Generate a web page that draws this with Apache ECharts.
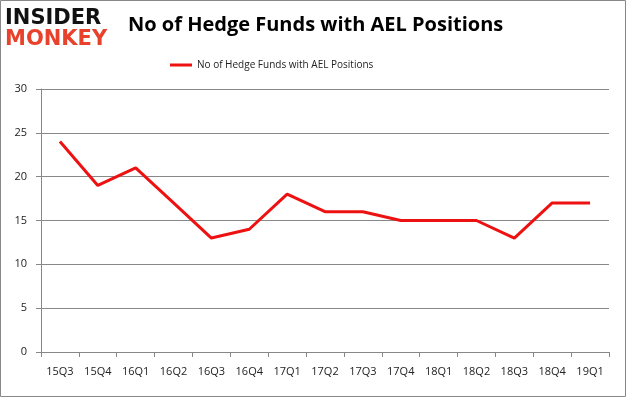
<!DOCTYPE html>
<html>
<head>
<meta charset="utf-8">
<script src="https://cdn.jsdelivr.net/npm/echarts@6/dist/echarts.min.js"></script>
<style>
  html, body { margin: 0; padding: 0; background: #fff; }
  #chart { width: 626px; height: 397px; }
</style>
</head>
<body>
<div id="chart"></div>
<script>
const categories = ['15Q3', '15Q4', '16Q1', '16Q2', '16Q3', '16Q4', '17Q1', '17Q2', '17Q3', '17Q4', '18Q1', '18Q2', '18Q3', '18Q4', '19Q1']
const hedgeFunds = [24, 19, 21, 17, 13, 14, 18, 16, 16, 15, 15, 15, 13, 17, 17]
const seriesName = 'No of Hedge Funds with AEL Positions'

const myChart = echarts.init(document.getElementById('chart'))
myChart.setOption({
  animation: false,
  graphic: [
    {
      type: 'rect',
      shape: { x: 0.5, y: 0.5, width: 625, height: 396 },
      style: { fill: 'none', stroke: '#888', lineWidth: 1 }
    },
    {
      type: 'text',
      left: 5,
      top: 8,
      style: { text: 'INSIDER', font: 'bold 21px "DejaVu Sans"', fill: '#111' }
    },
    {
      type: 'text',
      left: 5,
      top: 29,
      style: { text: 'MONKEY', font: 'bold 21px "DejaVu Sans"', fill: '#e8412c' }
    }
  ],
  title: {
    text: 'No of Hedge Funds with AEL Positions',
    left: 123,
    top: 10,
    textStyle: { fontFamily: 'Open Sans', fontSize: 20, fontWeight: 'bold', color: '#000' }
  },
  legend: {
    top: 55,
    left: 165,
    itemWidth: 22,
    itemHeight: 3,
    icon: 'rect',
    itemGap: 3,
    textStyle: { fontFamily: 'Open Sans', fontSize: 10, color: '#222' },
    data: [seriesName]
  },
  grid: {
    left: 41,
    right: 17,
    top: 89,
    bottom: 45
  },
  xAxis: {
    type: 'category',
    data: categories,
    boundaryGap: true,
    axisLine: { lineStyle: { color: '#888' } },
    axisTick: { show: true, alignWithLabel: false, length: 5, lineStyle: { color: '#888' } },
    axisLabel: { fontFamily: 'Open Sans', fontSize: 11, color: '#222', margin: 14, interval: 0 }
  },
  yAxis: {
    type: 'value',
    min: 0,
    max: 30,
    interval: 5,
    axisLine: { show: true, lineStyle: { color: '#888' } },
    axisTick: { show: true, length: 5, lineStyle: { color: '#888' } },
    axisLabel: { fontFamily: 'Open Sans', fontSize: 11, color: '#222', margin: 14 },
    splitLine: { lineStyle: { color: '#888' } }
  },
  series: [
    {
      name: seriesName,
      type: 'line',
      data: hedgeFunds,
      showSymbol: false,
      symbol: 'none',
      lineStyle: { color: '#ee1111', width: 3 },
      itemStyle: { color: '#ee1111' }
    }
  ]
})
</script>
</body>
</html>
